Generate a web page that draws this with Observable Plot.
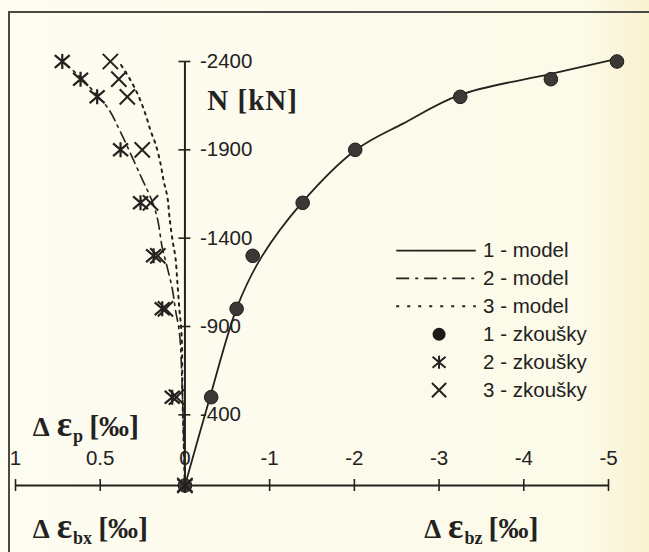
<!DOCTYPE html>
<html>
<head>
<meta charset="utf-8">
<script src="https://cdn.jsdelivr.net/npm/d3@7"></script>
<script src="https://cdn.jsdelivr.net/npm/@observablehq/plot@0.6"></script>
<style>
  html, body { margin: 0; padding: 0; background: #fcfbea; }
  #wrap { position: relative; width: 649px; height: 552px; overflow: hidden;
          background: linear-gradient(to right, #fdfcf1 0%, #fcfae8 90%, #f9f2d0 100%); }
  #frame { position: absolute; left: 8px; top: 11px; width: 700px; height: 600px;
           border-top: 2px solid #4a4944; border-left: 2px solid #4a4944; }
  #wrap svg { position: absolute; left: 0; top: 0; }
</style>
</head>
<body>
<div id="wrap"><div id="frame"></div></div>
<script>
// Load steps N [kN] at which the tests were read
const loads = [0, -500, -1000, -1300, -1600, -1900, -2200, -2300, -2400];
// Test 1: Δε_bz [‰]
const test1Ebz = [0, -0.31, -0.61, -0.80, -1.39, -2.01, -3.25, -4.32, -5.10];
// Test 2 and 3: Δε_p [‰]
const test2Ep = [0, 0.075, 0.134, 0.185, 0.262, 0.38, 0.518, 0.616, 0.724];
const test3Ep = [0, 0.05, 0.115, 0.16, 0.203, 0.252, 0.34, 0.39, 0.44];

// Model curves
const model1N = [0, -490, -1015, -1290, -1600, -1900, -2050, -2210, -2330, -2415];
const model1Ebz = [0, -0.29, -0.62, -0.90, -1.38, -2.02, -2.58, -3.24, -4.32, -5.10];
const model2N = [0, -550, -860, -990, -1115, -1256, -1347, -1500, -1600, -1750, -2000, -2130, -2210, -2310, -2400];
const model2Ep = [0, 0.016, 0.032, 0.055, 0.075, 0.11, 0.134, 0.16, 0.19, 0.26, 0.38, 0.45, 0.52, 0.616, 0.72];
const model3N = [0, -480, -860, -990, -1143, -1290, -1387, -1517, -1630, -1726, -1822, -1935, -2009, -2094, -2196, -2292, -2400];
const model3Ep = [0, 0.014, 0.02, 0.032, 0.044, 0.056, 0.073, 0.091, 0.103, 0.126, 0.144, 0.174, 0.203, 0.23, 0.27, 0.32, 0.39];

// Axis ticks
const epTicks = [1, 0.5];
const ebzTicks = [0, -1, -2, -3, -4, -5];
const nTicks = [-400, -900, -1400, -1900, -2400];

const legendLabels = ["1 - model", "2 - model", "3 - model", "1 - zkoušky", "2 - zkoušky", "3 - zkoušky"];

// Δε_p shares the horizontal axis at twice the scale of Δε_bz, on the left of N
const EP = 2;
const ink = "#23221f";

const pairs = (xs, ys, f) => xs.map((v, i) => ({x: f(v), y: ys[i]}));
const model1 = pairs(model1Ebz, model1N, v => v);
const model2 = pairs(model2Ep, model2N, v => v * EP);
const model3 = pairs(model3Ep, model3N, v => v * EP);
const test1 = pairs(test1Ebz, loads, v => v);
const test2 = pairs(test2Ep, loads, v => v * EP);
const test3 = pairs(test3Ep, loads, v => v * EP);

const xTicks = [
  ...epTicks.map(v => ({x: v * EP, label: String(v)})),
  ...ebzTicks.map(v => ({x: v, label: String(v)}))
];

// asterisk drawn as a cross with a vertical bar
const starCross = {
  draw(ctx, size) {
    const r = Math.sqrt(size / Math.PI);
    const a = r, b = r * 0.85;
    ctx.moveTo(0, -r); ctx.lineTo(0, r);
    ctx.moveTo(-a, -b); ctx.lineTo(a, b);
    ctx.moveTo(-a, b); ctx.lineTo(a, -b);
  }
};

// legend placement (data space)
const lgX1 = -2.5, lgX2 = -3.44, lgSym = -3.0, lgText = -3.52, lgTop = -1330, lgStep = 158;
const lgRow = i => lgTop + i * lgStep;
const legendText = legendLabels.map((t, i) => ({label: t, y: lgRow(i)}));

const fs = 20.5;
const chart = Plot.plot({
  width: 649,
  height: 552,
  marginLeft: 15,
  marginRight: 41,
  marginTop: 61,
  marginBottom: 67,
  x: {domain: [2, -5], axis: null},
  y: {domain: [0, -2400], axis: null},
  style: {background: "transparent", color: ink, fontFamily: "'Liberation Sans', Arial, sans-serif", fontSize: fs + "px", overflow: "visible"},
  marks: [
    // horizontal axis with crossing ticks
    Plot.ruleY([0], {x1: 2, x2: -5, stroke: ink, strokeWidth: 2}),
    Plot.ruleX(xTicks, {x: "x", y1: 0, y2: 0, insetTop: -6, insetBottom: -6, stroke: ink, strokeWidth: 1.6}),
    Plot.text(xTicks, {x: "x", y: 0, text: "label", dy: -27, fill: ink, fontSize: fs}),
    // vertical N axis
    Plot.ruleX([0], {y1: 0, y2: -2400, stroke: ink, strokeWidth: 2}),
    Plot.ruleY(nTicks, {y: d => d, x1: 0, x2: 0, insetLeft: -6, insetRight: -6, stroke: ink, strokeWidth: 1.6}),
    Plot.text(nTicks, {x: 0, y: d => d, text: d => String(d), textAnchor: "start", dx: 15, fill: ink, fontSize: fs}),
    // models
    Plot.line(model1, {x: "x", y: "y", stroke: ink, strokeWidth: 1.8, curve: "catmull-rom"}),
    Plot.line(model2, {x: "x", y: "y", stroke: ink, strokeWidth: 1.6, strokeDasharray: "11,5,2.5,5", curve: "catmull-rom"}),
    Plot.line(model3, {x: "x", y: "y", stroke: ink, strokeWidth: 2, strokeDasharray: "2.5,5", curve: "catmull-rom"}),
    // tests
    Plot.dot(test1, {x: "x", y: "y", r: 6.8, fill: "#3a3935", stroke: "#1c1b18", strokeWidth: 1}),
    Plot.dot(test2, {x: "x", y: "y", symbol: starCross, r: 7.5, fill: "none", stroke: ink, strokeWidth: 2.2}),
    Plot.dot(test3, {x: "x", y: "y", symbol: "times", r: 7, fill: "none", stroke: ink, strokeWidth: 2}),
    // legend
    Plot.ruleY([lgRow(0)], {y: d => d, x1: lgX1, x2: lgX2, stroke: ink, strokeWidth: 1.8}),
    Plot.ruleY([lgRow(1)], {y: d => d, x1: lgX1, x2: lgX2, stroke: ink, strokeWidth: 1.8, strokeDasharray: "13,6,3,6"}),
    Plot.ruleY([lgRow(2)], {y: d => d, x1: lgX1, x2: lgX2, stroke: ink, strokeWidth: 2, strokeDasharray: "3,8"}),
    Plot.dot([lgRow(3)], {x: lgSym, y: d => d, r: 6.5, fill: "#1c1b18"}),
    Plot.dot([lgRow(4)], {x: lgSym, y: d => d, symbol: starCross, r: 6.5, fill: "none", stroke: ink, strokeWidth: 2}),
    Plot.dot([lgRow(5)], {x: lgSym, y: d => d, symbol: "times", r: 6.5, fill: "none", stroke: ink, strokeWidth: 2}),
    Plot.text(legendText, {x: lgText, y: "y", text: "label", textAnchor: "start", fill: ink, fontSize: fs})
  ]
});

// axis titles with subscripts
const sx = chart.scale("x"), sy = chart.scale("y");
function addTitle(xv, yv, parts, size, spacing) {
  const t = d3.select(chart).append("text")
    .attr("x", sx.apply(xv)).attr("y", sy.apply(yv))
    .attr("text-anchor", "start")
    .attr("font-family", "'Liberation Serif', 'Times New Roman', serif")
    .attr("font-weight", "bold").attr("font-size", size).attr("fill", ink);
  if (spacing) t.attr("letter-spacing", spacing);
  for (const p of parts) {
    const s = t.append("tspan").text(p.t);
    if (p.size) s.attr("font-size", p.size);
    if (p.dy) s.attr("dy", p.dy);
    if (p.dx) s.attr("dx", p.dx);
  }
}
const deltaEps = sub => [
  {t: "Δ", size: 27},
  {t: "ε", size: 36, dx: 7},
  {t: sub, size: 18, dy: 6, dx: 1},
  {t: "[‰]", size: 30, dy: -6, dx: 6}
];
addTitle(-0.27, -2125, [{t: "N [kN]"}], 29, 1);
addTitle(1.79, -277, deltaEps("p"), 28);
addTitle(1.79, 300, deltaEps("bx"), 28);
addTitle(-2.83, 300, deltaEps("bz"), 28);

document.getElementById("wrap").appendChild(chart);
</script>
</body>
</html>
